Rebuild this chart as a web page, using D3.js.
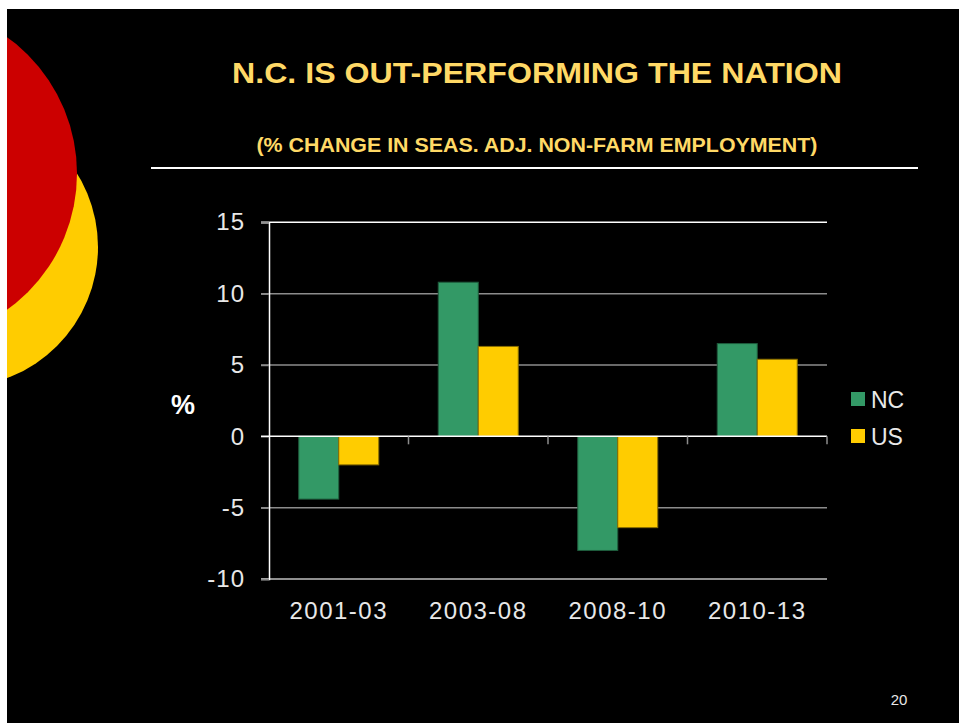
<!DOCTYPE html>
<html>
<head>
<meta charset="utf-8">
<script src="https://cdn.jsdelivr.net/npm/d3@7"></script>
<style>
  html, body { margin: 0; padding: 0; background: #ffffff; }
  svg { display: block; }
</style>
</head>
<body>
<svg id="chart" width="959" height="723"></svg>
<script>
// Employment change by period, percent
const categories = ["2001-03", "2003-08", "2008-10", "2010-13"];
const seriesNames = ["NC", "US"];
const ncValues = [-4.4, 10.8, -8.0, 6.5];
const usValues = [-2.0, 6.3, -6.4, 5.4];
const yTicks = [-10, -5, 0, 5, 10, 15];
const seriesColors = ["#339966", "#ffcc00"];

const svg = d3.select("#chart");
const W = 959, H = 723;

// slide background
svg.append("rect").attr("x", 0).attr("y", 0).attr("width", W).attr("height", H).attr("fill", "#000");

// decorative discs on the left edge
svg.append("circle").attr("cx", -42).attr("cy", 247).attr("r", 140).attr("fill", "#ffcc00");
svg.append("circle").attr("cx", -91).attr("cy", 173.5).attr("r", 168).attr("fill", "#cc0000");

// white page margins
svg.append("rect").attr("x", 0).attr("y", 0).attr("width", W).attr("height", 9).attr("fill", "#fff");
svg.append("rect").attr("x", 0).attr("y", 0).attr("width", 7).attr("height", H).attr("fill", "#fff");

// titles
svg.append("text")
  .attr("x", 537).attr("y", 83)
  .attr("text-anchor", "middle")
  .attr("font-family", "Liberation Sans, Arial, sans-serif")
  .attr("font-weight", "bold").attr("font-size", 30)
  .attr("fill", "#ffd966")
  .attr("textLength", 610).attr("lengthAdjust", "spacingAndGlyphs")
  .text("N.C. IS OUT-PERFORMING THE NATION");

svg.append("text")
  .attr("x", 537).attr("y", 151.5)
  .attr("text-anchor", "middle")
  .attr("font-family", "Liberation Sans, Arial, sans-serif")
  .attr("font-weight", "bold").attr("font-size", 20)
  .attr("fill", "#ffd966")
  .attr("textLength", 561).attr("lengthAdjust", "spacingAndGlyphs")
  .text("(% CHANGE IN SEAS. ADJ. NON-FARM EMPLOYMENT)");

svg.append("line")
  .attr("x1", 151).attr("x2", 918).attr("y1", 168).attr("y2", 168)
  .attr("stroke", "#fff").attr("stroke-width", 2);

// scales
const x0 = d3.scaleBand().domain(categories).range([269, 827]).padding(0);
const x1 = d3.scaleBand().domain(seriesNames).range([0, x0.bandwidth()]).paddingInner(0).paddingOuter(0.744);
const y = d3.scaleLinear().domain([-10, 15]).range([579, 222.3]);

const labelColor = "#e8e8e8";
const font = "Liberation Sans, Arial, sans-serif";

// gridlines
const gridColor = v => (v === 15 ? "#ffffff" : v === -10 ? "#bfbfbf" : "#8c8c8c");
svg.append("g").selectAll("line")
  .data(yTicks.filter(v => v !== 0))
  .join("line")
  .attr("x1", 261).attr("x2", 827)
  .attr("y1", d => y(d)).attr("y2", d => y(d))
  .attr("stroke", d => gridColor(d)).attr("stroke-width", 1.5);

// y axis
const yAxis = d3.axisLeft(y).tickValues(yTicks).tickSize(8).tickPadding(16).tickFormat(d => String(d));
const gy = svg.append("g").attr("transform", "translate(269,0)").call(yAxis);
gy.select(".domain").attr("stroke", "#fff").attr("stroke-width", 1.5);
gy.selectAll(".tick line").attr("stroke", "#8c8c8c").attr("stroke-width", 1.5);
gy.selectAll(".tick text")
  .attr("fill", labelColor).attr("font-family", font).attr("font-size", 24)
  .attr("letter-spacing", 1);

// bars
const groups = svg.append("g").selectAll("g")
  .data(categories.map((c, i) => ({ c, vals: [ncValues[i], usValues[i]] })))
  .join("g")
  .attr("transform", d => `translate(${x0(d.c)},0)`);

groups.selectAll("rect")
  .data(d => d.vals.map((v, j) => ({ key: seriesNames[j], v, j })))
  .join("rect")
  .attr("x", d => x1(d.key))
  .attr("width", x1.bandwidth())
  .attr("y", d => Math.min(y(d.v), y(0)))
  .attr("height", d => Math.abs(y(d.v) - y(0)))
  .attr("fill", d => seriesColors[d.j])
  .attr("stroke", d => d.j === 0 ? "#1f5c3d" : "#8a6e00")
  .attr("stroke-width", 1);

// category axis along zero
const gx = svg.append("g").attr("transform", `translate(0,${y(0)})`);
gx.append("line").attr("x1", 261).attr("x2", 827).attr("y1", 0).attr("y2", 0)
  .attr("stroke", "#fff").attr("stroke-width", 1.5);
gx.selectAll("line.sep")
  .data(categories.slice(1).concat(["end"]))
  .join("line").attr("class", "sep")
  .attr("x1", (d, i) => i < 3 ? x0(d) : x0.range()[1])
  .attr("x2", (d, i) => i < 3 ? x0(d) : x0.range()[1])
  .attr("y1", 0).attr("y2", 8)
  .attr("stroke", "#8c8c8c").attr("stroke-width", 1.5);

// category labels below the plot
svg.append("g").selectAll("text")
  .data(categories)
  .join("text")
  .attr("x", d => x0(d) + x0.bandwidth() / 2)
  .attr("y", 619)
  .attr("text-anchor", "middle")
  .attr("fill", labelColor).attr("font-family", font).attr("font-size", 24)
  .attr("letter-spacing", 1.5)
  .text(d => d);

// y axis title
svg.append("text")
  .attr("x", 183).attr("y", 414)
  .attr("text-anchor", "middle")
  .attr("fill", "#fff").attr("font-family", font).attr("font-weight", "bold").attr("font-size", 27)
  .text("%");

// legend
const legend = svg.append("g").selectAll("g")
  .data(seriesNames)
  .join("g")
  .attr("transform", (d, i) => `translate(851,${392 + i * 37})`);
legend.append("rect").attr("width", 14).attr("height", 14)
  .attr("fill", (d, i) => seriesColors[i]);
legend.append("text")
  .attr("x", 20).attr("y", 15.5)
  .attr("fill", labelColor).attr("font-family", font).attr("font-size", 23)
  .text(d => d);

// slide number
svg.append("text")
  .attr("x", 899).attr("y", 705)
  .attr("text-anchor", "middle")
  .attr("fill", "#e8e8e8").attr("font-family", font).attr("font-size", 15)
  .text("20");
</script>
</body>
</html>
